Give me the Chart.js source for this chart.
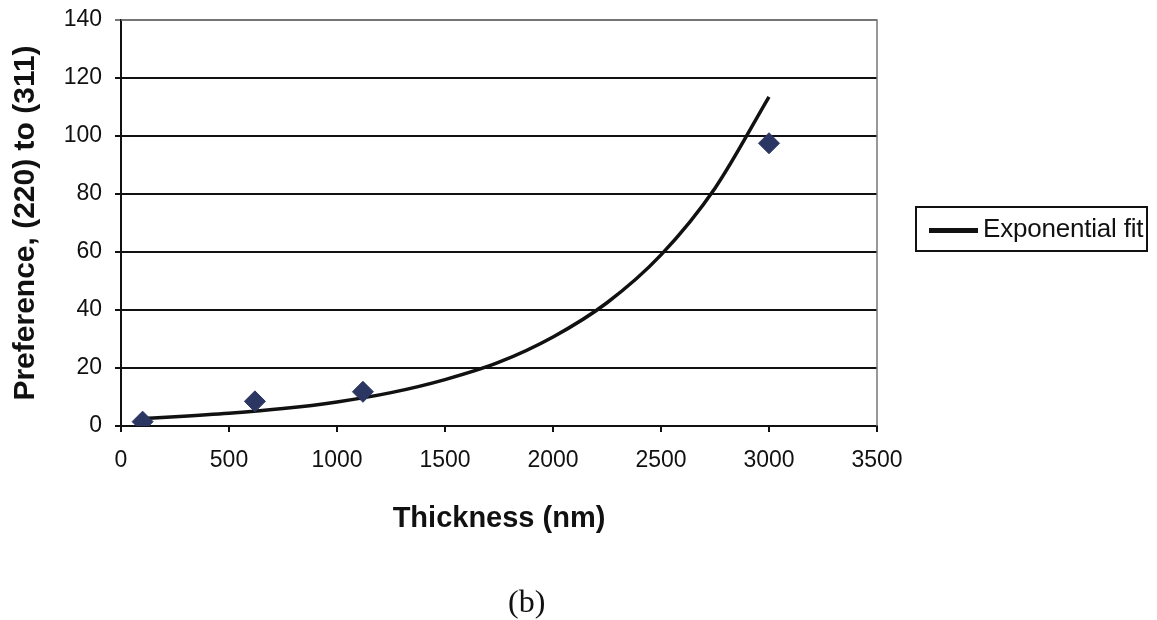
<!DOCTYPE html>
<html>
<head>
<meta charset="utf-8">
<script src="https://cdn.jsdelivr.net/npm/chart.js@4/dist/chart.umd.min.js"></script>
<style>
    body { margin: 0; background: #fff; }
    #wrap { position: relative; width: 1157px; height: 620px; }
    #legendBox {
        position: absolute; left: 915px; top: 206px; width: 233px; height: 46px;
        border: 2px solid #111; box-sizing: border-box;
        font-family: "Liberation Sans", Arial, sans-serif; font-size: 26px; line-height: 26px; color: #111;
    }
    #legendBox .swatch { position: absolute; left: 12px; top: 20px; width: 49px; height: 5px; background: #111; }
    #legendBox .label { position: absolute; left: 66px; top: 7px; white-space: nowrap; letter-spacing: -0.2px; }
    #caption {
        position: absolute; left: 508px; top: 585px; line-height: 32px;
        font-family: "Liberation Serif", "Times New Roman", serif; font-size: 32px; color: #111;
    }
</style>
</head>
<body>
<div id="wrap">
    <canvas id="chart" width="1157" height="620"></canvas>
    <div id="legendBox"><div class="swatch"></div><div class="label">Exponential fit</div></div>
    <div id="caption">(b)</div>
</div>
<script>
// Données mesurées
const thickness = [100, 620, 1120, 3000];
const preference = [1.5, 8.5, 11.8, 97.5];

// Courbe d'ajustement
const fitX = [100, 250, 500, 750, 1000, 1250, 1500, 1750, 2000, 2250, 2500, 2750, 3000];
const fitY = [2.6, 3.2, 4.4, 6.0, 8.3, 11.5, 16, 22, 30.7, 42.5, 59, 82, 113.5];

const xTicks = [0, 500, 1000, 1500, 2000, 2500, 3000, 3500];
const yTicks = [0, 20, 40, 60, 80, 100, 120, 140];

const fontFamily = '"Liberation Sans", Arial, sans-serif';

// Cadre gris en haut et à droite de la zone de tracé
const plotFrame = {
    id: 'plotFrame',
    afterDraw(chart) {
        const { ctx, chartArea } = chart;
        ctx.save();
        ctx.strokeStyle = '#777';
        ctx.lineWidth = 1.5;
        ctx.beginPath();
        ctx.moveTo(chartArea.left, chartArea.top);
        ctx.lineTo(chartArea.right, chartArea.top);
        ctx.lineTo(chartArea.right, chartArea.bottom);
        ctx.stroke();
        ctx.restore();
    }
};

new Chart(document.getElementById('chart'), {
    type: 'scatter',
    data: {
        datasets: [
            {
                label: 'Exponential fit',
                data: fitX.map((x, i) => ({ x: x, y: fitY[i] })),
                showLine: true,
                borderColor: '#111',
                borderWidth: 3.5,
                pointRadius: 0,
                cubicInterpolationMode: 'monotone',
                order: 2
            },
            {
                label: 'Data',
                data: thickness.map((x, i) => ({ x: x, y: preference[i] })),
                pointStyle: 'rectRot',
                pointRadius: 10.5,
                backgroundColor: '#2b3662',
                borderColor: '#2b3662',
                order: 1
            }
        ]
    },
    plugins: [plotFrame],
    options: {
        responsive: false,
        animation: false,
        layout: { padding: { top: 20, right: 280, bottom: 84, left: 0 } },
        plugins: {
            legend: { display: false },
            tooltip: { enabled: false }
        },
        scales: {
            x: {
                type: 'linear',
                min: 0,
                max: 3500,
                afterBuildTicks: (axis) => { axis.ticks = xTicks.map(v => ({ value: v })); },
                afterFit: (axis) => { axis.height = 110; },
                ticks: {
                    color: '#111',
                    font: { family: fontFamily, size: 23 },
                    padding: 15,
                    callback: (v) => String(v)
                },
                grid: { drawOnChartArea: false, drawTicks: true, tickLength: 6, color: '#111', lineWidth: 2 },
                border: { color: '#111', width: 2 },
                title: {
                    display: true,
                    text: 'Thickness (nm)',
                    color: '#111',
                    font: { family: fontFamily, size: 29, weight: 'bold' },
                    padding: { top: 0, bottom: 0 }
                }
            },
            y: {
                min: 0,
                max: 140,
                afterBuildTicks: (axis) => { axis.ticks = yTicks.map(v => ({ value: v })); },
                afterFit: (axis) => {
                    axis.width = 121;
                    axis.paddingTop = 0;
                    axis.paddingBottom = 0;
                },
                ticks: { color: '#111', font: { family: fontFamily, size: 23 }, padding: 13 },
                grid: {
                    color: (c) => c.tick && c.tick.value === 140 ? '#777' : '#111',
                    lineWidth: 2,
                    tickLength: 6
                },
                border: { color: '#111', width: 2 },
                title: {
                    display: true,
                    text: 'Preference, (220) to (311)',
                    color: '#111',
                    font: { family: fontFamily, size: 30, weight: 'bold' },
                    padding: { top: 8, bottom: 0 }
                }
            }
        }
    }
});
</script>
</body>
</html>
